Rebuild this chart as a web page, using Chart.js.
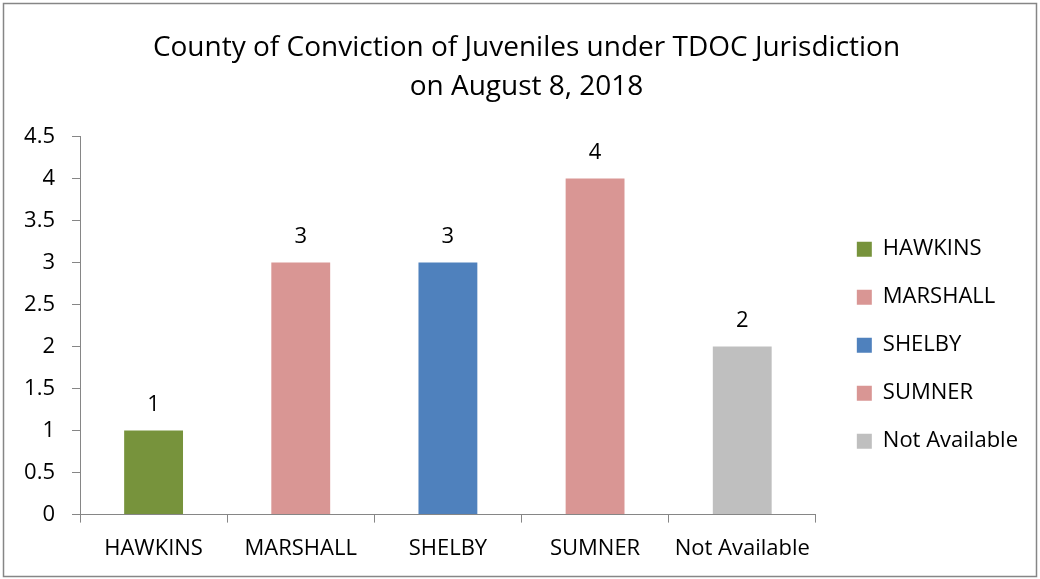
<!DOCTYPE html>
<html>
<head>
<meta charset="utf-8">
<script src="https://cdn.jsdelivr.net/npm/chart.js@4"></script>
<style>
  html, body { margin: 0; padding: 0; background: #fff; }
  #wrap { position: relative; width: 1040px; height: 579px; }
</style>
</head>
<body>
<div id="wrap"><canvas id="countyChart" width="1040" height="579"></canvas></div>
<script>
// data
var counties = ['HAWKINS', 'MARSHALL', 'SHELBY', 'SUMNER', 'Not Available'];
var juveniles = [1, 3, 3, 4, 2];
var barColors = ['#77933C', '#D99694', '#4F81BD', '#D99694', '#BFBFBF'];
var titleLines = ['County of Conviction of Juveniles under TDOC Jurisdiction', 'on August 8, 2018'];

var fontFamily = "'Open Sans', 'Noto Sans', sans-serif";
Chart.defaults.font.family = fontFamily;
Chart.defaults.color = '#000';

// outer frame round the whole picture
var framePlugin = {
    id: 'frame',
    beforeDraw: function(chart) {
        var c = chart.ctx;
        c.save();
        c.fillStyle = '#fff';
        c.fillRect(0, 0, chart.width, chart.height);
        c.strokeStyle = '#868686';
        c.lineWidth = 1.5;
        c.strokeRect(3.5, 3.5, chart.width - 7, chart.height - 6);
        c.restore();
    },
    afterLayout: function(chart) {
        // push legend a bit away from the plot, centre the title on the frame
        chart.legend.left += 15;
        chart.legend.right += 15;
        chart.titleBlock.left += 20;
        chart.titleBlock.right += 20;
    }
};

// value above each bar
var valueLabels = {
    id: 'valueLabels',
    afterDatasetsDraw: function(chart) {
        var c = chart.ctx;
        var meta = chart.getDatasetMeta(0);
        c.save();
        c.font = '22px ' + fontFamily;
        c.fillStyle = '#000';
        c.textAlign = 'center';
        c.textBaseline = 'middle';
        meta.data.forEach(function(bar, i) {
            c.fillText(juveniles[i], bar.x, bar.y - 26);
        });
        c.restore();
    }
};

var ctx = document.getElementById('countyChart').getContext('2d');

var countyChart = new Chart(ctx, {
    type: 'bar',
    data: {
        labels: counties,
        datasets: [{
            data: juveniles,
            backgroundColor: barColors,
            borderWidth: 0,
            barPercentage: 0.4,
            categoryPercentage: 1
        }]
    },
    options: {
        responsive: false,
        animation: false,
        devicePixelRatio: 1,
        layout: { padding: { left: 0, right: 27, top: 10, bottom: 4 } },
        scales: {
            x: {
                grid: { display: true, drawOnChartArea: false, offset: true, color: '#868686', tickLength: 8 },
                border: { display: true, color: '#868686' },
                ticks: { font: { size: 22 }, padding: 13, maxRotation: 0 }
            },
            y: {
                min: 0,
                max: 4.5,
                afterFit: function(s) { s.width = 80; },
                grid: { drawOnChartArea: false, color: '#868686', tickLength: 8 },
                border: { display: true, color: '#868686' },
                ticks: {
                    stepSize: 0.5,
                    font: { size: 22 },
                    padding: 17,
                    callback: function(v) { return String(v); }
                }
            }
        },
        plugins: {
            title: {
                display: true,
                text: titleLines,
                font: { size: 28, weight: 'normal', lineHeight: 1.4 },
                color: '#000',
                padding: { top: 18, bottom: 30 }
            },
            legend: {
                position: 'right',
                title: { display: true, text: '', padding: { top: 91, bottom: 0 } },
                labels: {
                    boxWidth: 15,
                    boxHeight: 15,
                    padding: 26,
                    font: { size: 22 },
                    generateLabels: function(chart) {
                        return counties.map(function(name, i) {
                            return {
                                text: name,
                                fillStyle: barColors[i],
                                strokeStyle: barColors[i],
                                lineWidth: 0,
                                index: i
                            };
                        });
                    }
                }
            },
            tooltip: { enabled: false }
        }
    },
    plugins: [framePlugin, valueLabels]
});
</script>
</body>
</html>
